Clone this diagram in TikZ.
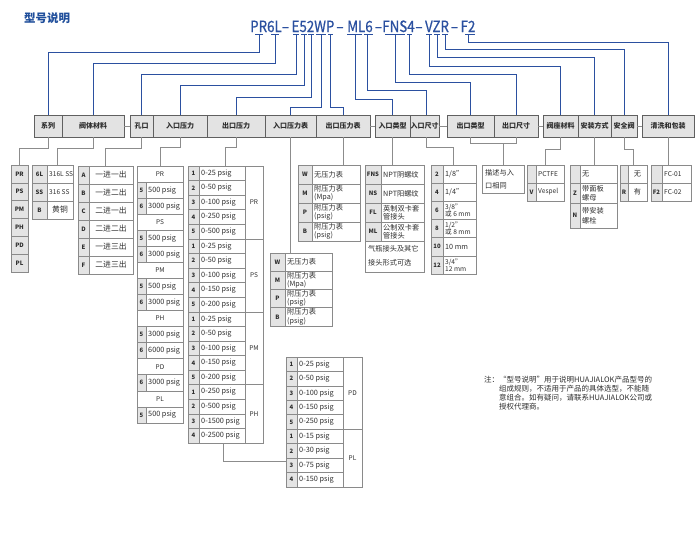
\documentclass[tikz,border=0pt]{standalone}
\usepackage{fontspec}
\setmainfont{Noto Sans CJK SC}
\newfontfamily\codefont[FakeStretch=0.86,FakeBold=0.7]{Noto Sans CJK SC}
\definecolor{bluec}{HTML}{2B50A0}
\definecolor{titlec}{HTML}{1F4E9B}
\definecolor{grayl}{HTML}{8C8C8C}
\definecolor{tabc}{HTML}{8A8A8A}
\definecolor{codec}{HTML}{E4E4E4}
\definecolor{hdrc}{HTML}{E3E3E3}
\definecolor{txtc}{HTML}{2E2E2E}
\tikzset{
  bl/.style={draw=bluec, line width=0.8pt},
  gl/.style={draw=grayl, line width=0.7pt},
  tl/.style={draw=tabc, line width=0.6pt},
  hdr/.style={draw=gray!75!black, fill=hdrc, line width=0.6pt, minimum height=22pt, inner sep=0pt, font=\bfseries\fontsize{7}{8}\selectfont, text=txtc},
  codet/.style={font=\bfseries\fontsize{6}{6.5}\selectfont, text=txtc, inner sep=0pt},
  valt/.style={font=\fontsize{7.2}{8.3}\selectfont, text=txtc, inner sep=0pt, align=left},
  valc/.style={font=\fontsize{7.2}{8.3}\selectfont, text=txtc, inner sep=0pt, align=center},
  psv/.style={font=\fontsize{7.3}{8}\selectfont},
  small/.style={font=\fontsize{6.6}{7.2}\selectfont},
  big/.style={font=\fontsize{7.8}{8.5}\selectfont},
  seg/.style={font=\codefont\fontsize{15.5}{16}\selectfont, text=bluec, inner sep=0pt, anchor=base},
  notet/.style={font=\fontsize{7.5}{9.1}\selectfont, text=txtc, inner sep=0pt, anchor=north west, align=left},
}
\newcommand\hdrbox[4]{\node[hdr, minimum width={#3-#2}] (#1) at ({(#2+#3)/2},126) {#4};}
\newcommand\crow[9][]{%
  \fill[codec] (#3,#6) rectangle (#4,#7);
  \draw[tl] (#3,#6) rectangle (#5,#7);
  \draw[tl] (#4,#6) -- (#4,#7);
  \node[codet] (#2c) at ({(#3+#4)/2},{(#6+#7)/2}) {#8};
  \node[valt,#1,anchor=west] (#2t) at ({#4+2},{(#6+#7)/2}) {#9};}
\newcommand\ccrow[9][]{%
  \fill[codec] (#3,#6) rectangle (#4,#7);
  \draw[tl] (#3,#6) rectangle (#5,#7);
  \draw[tl] (#4,#6) -- (#4,#7);
  \node[codet] (#2c) at ({(#3+#4)/2},{(#6+#7)/2}) {#8};
  \node[valc,#1] (#2t) at ({(#4+#5)/2},{(#6+#7)/2}) {#9};}
\newcommand\lead[6]{%
  \coordinate (#1) at (#4,34);
  \draw[bl] (#2,34) -- (#3,34) (#1) -- (#4,#5) -| (#6);}
\begin{document}
\begin{tikzpicture}[x=1pt,y=-1pt]
\useasboundingbox (0,0) rectangle (698,538);
\fill[white] (0,0) rectangle (698,538);

% title and model code
\node[font=\bfseries\fontsize{11.5}{12}\selectfont, text=titlec, anchor=west, inner sep=0pt] (title) at (24,18) {型号说明};
\node[seg] (s1) at (266,32) {PR6L};
\node[seg] (d1) at (285.5,32) {–};
\node[seg] (s2) at (313,32) {E52WP};
\node[seg] (d2) at (340,32) {–};
\node[seg] (s3) at (360,32) {ML6};
\node[seg] (d3) at (378.5,32) {–};
\node[seg] (s4) at (398.5,32) {FNS4};
\node[seg] (d4) at (419,32) {–};
\node[seg] (s5) at (437,32) {VZR};
\node[seg] (d5) at (454.5,32) {–};
\node[seg] (s6) at (468,32) {F2};

% header boxes
\hdrbox{h1}{34}{62}{系列}
\hdrbox{h2}{62}{124}{阀体材料}
\hdrbox{h3}{130}{153}{孔口}
\hdrbox{h4}{153}{207}{入口压力}
\hdrbox{h5}{207}{265}{出口压力}
\hdrbox{h6}{265}{316}{入口压力表}
\hdrbox{h7}{316}{370}{出口压力表}
\hdrbox{h8}{375}{410}{入口类型}
\hdrbox{h9}{410}{439}{入口尺寸}
\hdrbox{h10}{447}{494}{出口类型}
\hdrbox{h11}{494}{538}{出口尺寸}
\hdrbox{h12}{543}{578}{阀座材料}
\hdrbox{h13}{578}{611}{安装方式}
\hdrbox{h14}{611}{637}{安全阀}
\hdrbox{h15}{642}{694}{清洗和包装}
\draw[gl] (h2.east) -- (h3.west);
\draw[gl] (h7.east) -- (h8.west);
\draw[gl] (h9.east) -- (h10.west);
\draw[gl] (h11.east) -- (h12.west);
\draw[gl] (h14.east) -- (h15.west);

% blue leaders
\lead{k1}{255}{263}{259}{52}{h1.north}
\lead{k2}{271}{279}{275}{63}{h2.north}
\lead{k3}{293}{299}{296}{74}{h3.north}
\lead{k4}{301}{307}{304}{85}{h4.north}
\lead{k5}{308}{314}{311}{97}{h5.north}
\lead{k6}{316}{326}{321}{107}{h6.north}
\lead{k7}{328}{333}{330}{107}{h7.north}
\lead{k8}{347}{362}{355}{99}{h8.north}
\lead{k9}{364}{373}{367}{90}{[xshift=1.5pt]h9.north}
\lead{k10}{385}{405}{395}{82}{h10.north}
\lead{k11}{407}{412}{409}{74}{h11.north}
\lead{k12}{426}{432}{429}{66}{h12.north}
\lead{k13}{434}{440}{437}{57}{h13.north}
\lead{k14}{442}{448}{445}{49}{h14.north}
\lead{k15}{465}{475}{468}{42}{h15.north}

% T1 series
\foreach \qa [count=\i from 0] in {PR,PS,PM,PH,PD,PL}{
  \pgfmathsetmacro\ya{165+\i*17.83}\pgfmathsetmacro\yb{165+(\i+1)*17.83}
  \filldraw[tl, fill=codec] (11,\ya) rectangle (28,\yb);
  \node[codet] (sr\i) at (19.5,{(\ya+\yb)/2}) {\qa};}

% T2 body material
\crow[small]{m1}{32}{47}{73}{165}{183}{6L}{316L SS}
\crow[small]{m2}{32}{47}{73}{183}{201}{SS}{316 SS}
\ccrow[big]{m3}{32}{47}{73}{201}{219}{B}{黄铜}

% T3 ports
\foreach \qa/\qb [count=\i from 0] in {A/一进一出,B/一进二出,C/二进一出,D/二进二出,E/一进三出,F/二进三出}{
  \pgfmathsetmacro\ya{166+\i*18}\pgfmathsetmacro\yb{166+(\i+1)*18}
  \ccrow[big]{o\i}{78}{89}{133}{\ya}{\yb}{\qa}{\qb}}

% T4 inlet pressure
\foreach \i/\qb in {0/PR,3/PS,6/PM,9/PH,12/PD,14/PL}{
  \pgfmathsetmacro\ya{166+\i*16.06}\pgfmathsetmacro\yb{166+(\i+1)*16.06}
  \draw[tl] (137,\ya) rectangle (183,\yb);
  \node[valc, font=\fontsize{6.5}{7}\selectfont] (ph\i) at (160,{(\ya+\yb)/2}) {\qb};}
\foreach \i/\qa/\qb in {1/5/500,2/6/3000,4/5/500,5/6/3000,7/5/500,8/6/3000,10/5/3000,11/6/6000,13/6/3000,15/5/500}{
  \pgfmathsetmacro\ya{166+\i*16.06}\pgfmathsetmacro\yb{166+(\i+1)*16.06}
  \crow[psv]{p\i}{137}{146}{183}{\ya}{\yb}{\qa}{\qb\ psig}}

% T5 outlet pressure
\foreach \qa/\qb [count=\i from 0] in {1/0-25,2/0-50,3/0-100,4/0-250,5/0-500,1/0-25,2/0-50,3/0-100,4/0-150,5/0-200,1/0-25,2/0-50,3/0-100,4/0-150,5/0-200,1/0-250,2/0-500,3/0-1500,4/0-2500}{
  \pgfmathsetmacro\ya{166+\i*14.58}\pgfmathsetmacro\yb{166+(\i+1)*14.58}
  \crow[psv]{e\i}{188}{199}{245}{\ya}{\yb}{\qa}{\qb\ psig}}
\foreach \a/\b/\qb in {0/5/PR,5/10/PS,10/15/PM,15/19/PH}{
  \draw[tl] (245,{166+\a*14.58}) rectangle (263,{166+\b*14.58});
  \node[valc, font=\fontsize{6.5}{7}\selectfont] (eg\a) at (254,{166+(\a+\b)/2*14.58}) {\qb};}

% T15 PD/PL
\foreach \qa/\qb [count=\i from 0] in {1/0-25,2/0-50,3/0-100,4/0-150,5/0-250,1/0-15,2/0-30,3/0-75,4/0-150}{
  \pgfmathsetmacro\ya{357+\i*14.44}\pgfmathsetmacro\yb{357+(\i+1)*14.44}
  \crow[psv]{l\i}{286}{297}{343}{\ya}{\yb}{\qa}{\qb\ psig}}
\foreach \a/\b/\qb in {0/5/PD,5/9/PL}{
  \draw[tl] (343,{357+\a*14.44}) rectangle (362,{357+\b*14.44});
  \node[valc, font=\fontsize{6.5}{7}\selectfont] (lg\a) at (352.5,{357+(\a+\b)/2*14.44}) {\qb};}

% T6 outlet gauge
\crow{w1}{298}{312}{360}{165}{184}{W}{无压力表}
\crow{w2}{298}{312}{360}{184}{203}{M}{附压力表\\(Mpa)}
\crow{w3}{298}{312}{360}{203}{222}{P}{附压力表\\(psig)}
\crow{w4}{298}{312}{360}{222}{241}{B}{附压力表\\(psig)}

% T7 inlet gauge
\crow{v1}{270}{285}{332}{253}{271.25}{W}{无压力表}
\crow{v2}{270}{285}{332}{271.25}{289.5}{M}{附压力表\\(Mpa)}
\crow{v3}{270}{285}{332}{289.5}{307.75}{P}{附压力表\\(psig)}
\crow{v4}{270}{285}{332}{307.75}{326}{B}{附压力表\\(psig)}

% T8 inlet type
\crow{f1}{365}{381}{424}{165}{184}{FNS}{NPT阴螺纹}
\crow{f2}{365}{381}{424}{184}{203}{NS}{NPT阳螺纹}
\crow{f3}{365}{381}{424}{203}{222}{FL}{英制双卡套\\管接头}
\crow{f4}{365}{381}{424}{222}{241}{ML}{公制双卡套\\管接头}
\draw[tl] (365,241) rectangle (424,272);
\node[valt, font=\fontsize{7.2}{14}\selectfont, anchor=west] (fnote) at (368,256) {气瓶接头及其它\\接头形式可选};

% T9 inlet size
\crow{z1}{431}{443}{476}{165}{183.17}{2}{1/8"}
\crow{z2}{431}{443}{476}{183.17}{201.33}{4}{1/4"}
\crow[small]{z3}{431}{443}{476}{201.33}{219.5}{6}{3/8"\\或 6 mm}
\crow[small]{z4}{431}{443}{476}{219.5}{237.67}{8}{1/2"\\或 8 mm}
\crow{z5}{431}{443}{476}{237.67}{255.83}{10}{10 mm}
\crow[small]{z6}{431}{443}{476}{255.83}{274}{12}{3/4"\\12 mm}

% T10 outlet description
\draw[tl] (482,165) rectangle (524,193);
\node[valt, font=\fontsize{7.2}{13}\selectfont, anchor=west] (desc) at (485,179) {描述与入\\口相同};

% T11 seat material
\crow[small]{r1}{527}{536}{564}{165}{183}{}{PCTFE}
\crow[small]{r2}{527}{536}{564}{183}{201}{V}{Vespel}

% T12 mounting
\crow{a1}{570}{580}{617}{165}{183}{}{无}
\crow[font=\fontsize{7.2}{9.2}\selectfont]{a2}{570}{580}{617}{183}{203}{Z}{带面板\\螺母}
\crow[font=\fontsize{7.2}{10}\selectfont]{a3}{570}{580}{617}{203}{228}{N}{带安装\\螺栓}

% T13 relief valve
\ccrow{q1}{620}{628}{647}{165}{183}{}{无}
\ccrow{q2}{620}{628}{647}{183}{201}{R}{有}

% T14 cleaning
\crow[small]{c1}{651}{662}{691}{165}{183}{}{FC-01}
\crow[small]{c2}{651}{662}{691}{183}{201}{F2}{FC-02}

% gray connectors header -> tables
\coordinate (u1) at (19.5,165);
\coordinate (u2) at (57,165);
\coordinate (u3) at (105.5,166);
\coordinate (u4) at (160,166);
\coordinate (u5) at (225.5,166);
\coordinate (u6) at (290.5,253);
\coordinate (u7) at (343,165);
\coordinate (u8) at (392.5,165);
\coordinate (u9) at (453.5,165);
\coordinate (u10) at (503,165);
\coordinate (u12) at (545.5,165);
\coordinate (u13) at (594.5,165);
\coordinate (u14) at (633.5,165);
\coordinate (u15) at (668,165);
\draw[gl] (h1.south) -- ++(0,11) -| (u1);
\draw[gl] (h2.south) -- ++(0,11) -| (u2);
\draw[gl] (h3.south) -- ++(0,11) -| (u3);
\draw[gl] (h4.south) -- ++(0,10) -| (u4);
\draw[gl] (h5.south) -- ++(0,10) -| (u5);
\draw[gl] (h6.south) -- (u6);
\draw[gl] (h7.south) -- (u7);
\draw[gl] (h8.south) -- (u8);
\draw[gl] ([xshift=1.5pt]h9.south) -- ++(0,10) -| (u9);
\draw[gl] (h10.south) -- ++(0,6) -| (h11.south);
\draw[gl] (u10 |- 0,143) -- (u10);
\draw[gl] (h12.south) -- ++(0,12) -| (u12);
\draw[gl] (h13.south) -- (u13);
\draw[gl] (h14.south) -- ++(0,12) -| (u14);
\draw[gl] (h15.south) -- (u15);
\coordinate (t5b) at (223,443);
\coordinate (t15l) at (286,461);
\draw[gl] (t5b) |- (t15l);

% note
\node[notet] (n0) at (484,375.5) {注：};
\node[notet] (n1) at (499,375.5) {“型号说明”用于说明HUAJIALOK产品型号的\\组成规则，不适用于产品的具体选型，不能随\\意组合。如有疑问，请联系HUAJIALOK公司或\\授权代理商。};
\end{tikzpicture}
\end{document}
